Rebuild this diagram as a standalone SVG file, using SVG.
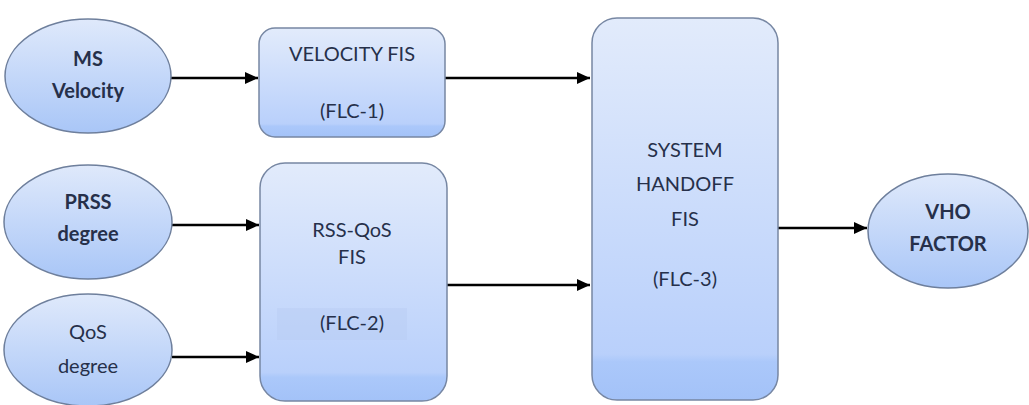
<svg xmlns="http://www.w3.org/2000/svg" width="1029" height="405" viewBox="0 0 1029 405">
  <defs>
    <linearGradient id="fillShade" x1="0" y1="0" x2="0" y2="1">
      <stop offset="0" stop-color="#e2ebfb"/>
      <stop offset="0.88" stop-color="#b9d0fb"/>
      <stop offset="0.9" stop-color="#abc8fa"/>
      <stop offset="1" stop-color="#a3c2f8"/>
    </linearGradient>
    <linearGradient id="ovalShade" x1="0" y1="0" x2="0" y2="1">
      <stop offset="0" stop-color="#dfe9fb"/>
      <stop offset="1" stop-color="#a9c6f7"/>
    </linearGradient>
    <marker id="arrowHead" viewBox="0 0 13 12" refX="13" refY="6" markerWidth="13" markerHeight="12" markerUnits="userSpaceOnUse" orient="auto">
      <path d="M0,0 L13,6 L0,12 z" fill="#000"/>
    </marker>
  </defs>
  <style>
    .box { fill: url(#fillShade); stroke: #7787a3; stroke-width: 1.5; }
    .oval { fill: url(#ovalShade); stroke: #6e7f9c; stroke-width: 1.5; }
    .label { font-family: Lato, "Liberation Sans", sans-serif; font-size: 20px; fill: #26304a; text-anchor: middle; }
    .bold { font-weight: bold; }
    .wire { stroke: #000; stroke-width: 2.5; fill: none; marker-end: url(#arrowHead); }
  </style>
  <rect width="1029" height="405" fill="#ffffff"/>

  <g id="connectors">
    <line class="wire" x1="171" y1="78" x2="258" y2="78"/>
    <line class="wire" x1="445" y1="78" x2="590" y2="78"/>
    <line class="wire" x1="172" y1="225" x2="259" y2="225"/>
    <line class="wire" x1="172" y1="357" x2="259" y2="357"/>
    <line class="wire" x1="447" y1="285" x2="590" y2="285"/>
    <line class="wire" x1="778" y1="228" x2="867" y2="228"/>
  </g>

  <g id="ms-velocity">
    <ellipse class="oval" cx="88" cy="76" rx="83" ry="57"/>
    <text class="label bold" x="88" y="66">MS</text>
    <text class="label bold" x="88" y="98">Velocity</text>
  </g>

  <g id="prss-degree">
    <ellipse class="oval" cx="88" cy="222" rx="84" ry="57"/>
    <text class="label bold" x="88" y="209">PRSS</text>
    <text class="label bold" x="88" y="241">degree</text>
  </g>

  <g id="qos-degree">
    <ellipse class="oval" cx="88" cy="350" rx="84" ry="56"/>
    <text class="label" x="88" y="339">QoS</text>
    <text class="label" x="88" y="373">degree</text>
  </g>

  <g id="velocity-fis">
    <rect class="box" x="259" y="28" width="186" height="109" rx="16"/>
    <text class="label" x="352" y="61">VELOCITY FIS</text>
    <text class="label" x="352" y="118">(FLC-1)</text>
  </g>

  <g id="rss-qos-fis">
    <rect class="box" x="260" y="163" width="187" height="238" rx="25"/>
    <rect x="277" y="308" width="130" height="32" fill="#b7cdf2" opacity="0.45"/>
    <text class="label" x="352" y="237">RSS-QoS</text>
    <text class="label" x="352" y="264">FIS</text>
    <text class="label" x="352" y="330">(FLC-2)</text>
  </g>

  <g id="system-handoff-fis">
    <rect class="box" x="592" y="18" width="186" height="382" rx="25"/>
    <text class="label" x="685" y="157">SYSTEM</text>
    <text class="label" x="685" y="191">HANDOFF</text>
    <text class="label" x="685" y="226">FIS</text>
    <text class="label" x="685" y="286">(FLC-3)</text>
  </g>

  <g id="vho-factor">
    <ellipse class="oval" cx="948" cy="231" rx="80" ry="57"/>
    <text class="label bold" x="948" y="219">VHO</text>
    <text class="label bold" x="948" y="251">FACTOR</text>
  </g>
</svg>
